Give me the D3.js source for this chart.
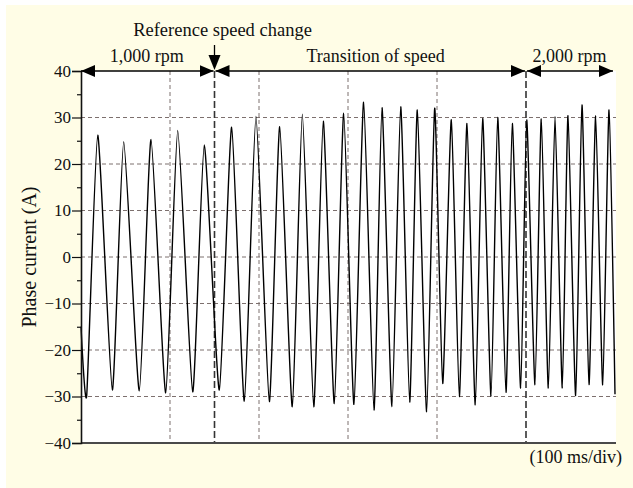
<!DOCTYPE html>
<html>
<head>
<meta charset="utf-8">
<script src="https://cdn.jsdelivr.net/npm/d3@7"></script>
<style>
  html, body { margin: 0; padding: 0; background: #ffffff; }
  svg { display: block; }
  text { font-family: "Liberation Serif", "Times New Roman", serif; fill: #111; }
</style>
</head>
<body>
<svg id="chart" width="633" height="488"></svg>
<script>
// Phase current waveform: successive extrema (time in ms, current in A)
const timeMs = [
  0, 6.4, 18.8, 35.2, 48.0, 65.5, 78.7, 95.2, 108.7, 125.5, 138.5,
  155.4, 169.3, 183.5, 196.6, 211.6, 223.3, 237.4, 248.7, 261.5, 272.2,
  284.6, 295.2, 306.7, 317.6, 329.2, 338.2, 349.4, 359.2, 369.3, 377.9,
  388.4, 397.4, 406.4, 416.1, 425.1, 433.7, 443.0, 451.3, 460.7, 468.2,
  477.5, 484.6, 494.0, 500.8, 510.1, 517.2, 525.1, 532.6, 540.8, 547.2,
  555.8, 562.9, 570.8, 578.3, 586.2, 593.3, 600
];
const currentA = [
  -15, -29.8, 26.2, -28.6, 24.8, -28.8, 25.3, -29.2, 27.2, -29.0, 24.1,
  -28.6, 27.9, -31.0, 30.2, -31.1, 28.0, -32.2, 30.7, -32.2, 29.2,
  -31.5, 30.9, -31.7, 33.3, -32.9, 32.1, -32.2, 32.3, -31.2, 31.6,
  -33.3, 32.0, -27.2, 29.5, -30.0, 28.7, -31.8, 29.8, -30.0, 30.0,
  -29.1, 28.7, -28.2, 29.5, -27.5, 29.7, -28.2, 30.2, -28.2, 30.4,
  -29.8, 32.7, -27.4, 30.4, -27.5, 31.6, -29.5
];

// Axis ticks and grid positions
const yMajorTicks = [-40, -30, -20, -10, 0, 10, 20, 30, 40];
const yMinorTicks = [-35, -25, -15, -5, 5, 15, 25, 35];
const yGridLines = [-30, -20, -10, 0, 10, 20, 30];
const timeGridLines = [100, 200, 300, 400];
const speedMarkers = [150, 500];

// Operating phases along the top of the plot
const phaseLabels = ["1,000 rpm", "Transition of speed", "2,000 rpm"];
const phaseBounds = [0, 150, 500, 600];
const phaseLabelCenters = [74, 331, 549];

const svg = d3.select("#chart");
const W = 633, H = 488;
const plot = { left: 81, right: 615, top: 71, bottom: 443 };

const x = d3.scaleLinear().domain([0, 600]).range([plot.left, plot.right]);
const y = d3.scaleLinear().domain([-40, 40]).range([plot.bottom, plot.top]);

// Panel background
svg.append("rect").attr("x", 6).attr("y", 5).attr("width", W - 6).attr("height", H - 5)
  .attr("fill", "#fffde6");
svg.append("rect").attr("x", plot.left).attr("y", plot.top)
  .attr("width", plot.right - plot.left + 1).attr("height", plot.bottom - plot.top)
  .attr("fill", "#ffffff");

// Grid
const grid = svg.append("g").attr("fill", "none");
grid.selectAll("line.h").data(yGridLines).join("line")
  .attr("class", "h")
  .attr("x1", plot.left).attr("x2", plot.right + 1)
  .attr("y1", d => y(d)).attr("y2", d => y(d))
  .attr("stroke", "#7d706e").attr("stroke-width", 1).attr("stroke-dasharray", "4,3");
grid.selectAll("line.v").data(timeGridLines).join("line")
  .attr("class", "v")
  .attr("x1", d => x(d)).attr("x2", d => x(d))
  .attr("y1", plot.top).attr("y2", plot.bottom)
  .attr("stroke", "#7d706e").attr("stroke-width", 1).attr("stroke-dasharray", "4,3");
grid.selectAll("line.m").data(speedMarkers).join("line")
  .attr("class", "m")
  .attr("x1", d => x(d)).attr("x2", d => x(d))
  .attr("y1", plot.top).attr("y2", plot.bottom)
  .attr("stroke", "#333333").attr("stroke-width", 1.6).attr("stroke-dasharray", "7,3");

// Waveform
const wave = timeMs.map((t, i) => ({ t, v: currentA[i] }));
const line = d3.line().x(d => x(d.t)).y(d => y(d.v)).curve(d3.curveCardinal.tension(0.45));
svg.append("path").datum(wave)
  .attr("d", line)
  .attr("fill", "none").attr("stroke", "#000").attr("stroke-width", 1.4)
  .attr("stroke-linejoin", "round");

// Bottom axis line
svg.append("line")
  .attr("x1", plot.left).attr("x2", plot.right + 1)
  .attr("y1", plot.bottom).attr("y2", plot.bottom)
  .attr("stroke", "#4a4a4a").attr("stroke-width", 2);

// Left axis with major and minor ticks
const yAxis = svg.append("g").attr("transform", `translate(${plot.left},0)`)
  .call(d3.axisLeft(y).tickValues(yMajorTicks).tickSize(9).tickPadding(1));
svg.append("g").attr("transform", `translate(${plot.left},0)`)
  .call(d3.axisLeft(y).tickValues(yMinorTicks).tickSize(4).tickFormat(""))
  .call(g => g.select(".domain").remove());
svg.selectAll(".tick line").attr("stroke", "#111").attr("stroke-width", 1.2);
yAxis.select(".domain").attr("stroke", "#111").attr("stroke-width", 1.6);
yAxis.selectAll(".tick text")
  .style("font-family", '"Liberation Serif", "Times New Roman", serif')
  .style("font-size", "17px").attr("fill", "#111");

// Phase arrows along the top edge
const defs = svg.append("defs");
defs.append("marker").attr("id", "head").attr("viewBox", "0 0 14 12")
  .attr("refX", 14).attr("refY", 6).attr("markerWidth", 14).attr("markerHeight", 12)
  .attr("markerUnits", "userSpaceOnUse").attr("orient", "auto-start-reverse")
  .append("path").attr("d", "M0,0 L14,6 L0,12 Z").attr("fill", "#000");

const arrowY = plot.top;
svg.selectAll("line.phase").data(d3.range(phaseLabels.length)).join("line")
  .attr("class", "phase")
  .attr("x1", i => x(phaseBounds[i]) + (i === 0 ? 0 : 1))
  .attr("x2", i => x(phaseBounds[i + 1]) - (i === phaseLabels.length - 1 ? 2 : 1))
  .attr("y1", arrowY).attr("y2", arrowY)
  .attr("stroke", "#000").attr("stroke-width", 1.3)
  .attr("marker-start", "url(#head)").attr("marker-end", "url(#head)");

svg.selectAll("text.phase").data(d3.range(phaseLabels.length)).join("text")
  .attr("class", "phase")
  .attr("x", i => x(phaseLabelCenters[i]))
  .attr("y", 62)
  .attr("text-anchor", "middle")
  .style("font-size", "18px")
  .text(i => phaseLabels[i]);

// Reference speed change annotation
const refX = x(speedMarkers[0]);
svg.append("line").attr("x1", refX).attr("x2", refX).attr("y1", 45).attr("y2", 56)
  .attr("stroke", "#000").attr("stroke-width", 1.3);
svg.append("path")
  .attr("d", `M${refX - 6},55 L${refX + 6},55 L${refX},70 Z`).attr("fill", "#000");
svg.append("text").attr("x", refX + 8).attr("y", 36).attr("text-anchor", "middle")
  .style("font-size", "18.5px").text("Reference speed change");

// Axis titles
svg.append("text")
  .attr("transform", `translate(36,${(plot.top + plot.bottom) / 2}) rotate(-90)`)
  .attr("text-anchor", "middle").style("font-size", "20px")
  .text("Phase current (A)");
svg.append("text").attr("x", 622).attr("y", 463).attr("text-anchor", "end")
  .style("font-size", "18px").text("(100 ms/div)");
</script>
</body>
</html>
